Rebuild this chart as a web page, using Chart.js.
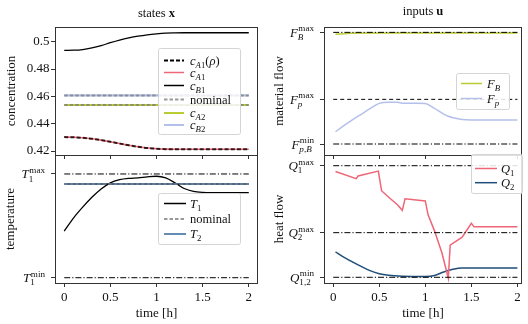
<!DOCTYPE html>
<html>
<head>
<meta charset="utf-8">
<script src="https://cdn.jsdelivr.net/npm/chart.js@4/dist/chart.umd.min.js"></script>
<style>
  html, body { margin: 0; padding: 0; background: #fff; }
  #wrap { position: relative; width: 528px; height: 324px; }
  canvas { position: absolute; left: 0; top: 0; }
</style>
</head>
<body>
<div id="wrap">
  <canvas id="tl" width="528" height="324"></canvas>
  <canvas id="bl" width="528" height="324"></canvas>
  <canvas id="tr" width="528" height="324"></canvas>
  <canvas id="br" width="528" height="324"></canvas>
</div>
<script>
// ---- data: states (left column) ----
const tStates = [0, 0.1, 0.2, 0.3, 0.4, 0.5, 0.6, 0.7, 0.8, 0.9, 1.0, 1.1, 1.2, 1.3, 1.4, 1.5, 1.6, 1.7, 1.8, 1.9, 2.0];
const cA1 = [0.4302, 0.4301, 0.4297, 0.4290, 0.4280, 0.4268, 0.4255, 0.4242, 0.4231, 0.4222, 0.4217, 0.4214, 0.4213, 0.4213, 0.4213, 0.4213, 0.4213, 0.4213, 0.4213, 0.4213, 0.4213];
const cA1Rho = [0.4302, 0.4301, 0.4297, 0.4290, 0.4280, 0.4268, 0.4255, 0.4242, 0.4231, 0.4222, 0.4217, 0.4214, 0.4213, 0.4213, 0.4213, 0.4213, 0.4213, 0.4213, 0.4213, 0.4213, 0.4213];
const cB1 = [0.4937, 0.4938, 0.4943, 0.4955, 0.4972, 0.4993, 0.5012, 0.5028, 0.5041, 0.5051, 0.5058, 0.5063, 0.5065, 0.5066, 0.5066, 0.5066, 0.5066, 0.5066, 0.5066, 0.5066, 0.5066];
const tEnds = [0, 2];
const cA2 = [0.4537, 0.4537];
const cB2 = [0.4607, 0.4607];
const nominalA2 = [0.4537, 0.4537];
const nominalB2 = [0.4607, 0.4607];
const concTicks = [0.42, 0.44, 0.46, 0.48, 0.5];

const T1 = [0.45, 0.575, 0.68, 0.775, 0.855, 0.915, 0.945, 0.958, 0.963, 0.972, 0.978, 0.962, 0.915, 0.86, 0.832, 0.822, 0.82, 0.82, 0.82, 0.82, 0.82];
const T2 = [0.904, 0.904];
const nominalT2 = [0.904, 0.904];
const T1max = [1, 1];
const T1min = [0, 0];

// ---- data: inputs (right column) ----
const tFB = [0.025, 0.2, 0.5, 2.0];
const FB = [2.455, 2.48, 2.485, 2.485];
const tFp = [0.025, 0.1, 0.2, 0.3, 0.4, 0.5, 0.6, 0.7, 0.75, 0.9, 1.0, 1.1, 1.2, 1.25, 1.3, 1.4, 1.5, 2.0];
const Fp = [0.275, 0.39, 0.53, 0.66, 0.79, 0.91, 0.935, 0.935, 0.915, 0.915, 0.905, 0.8, 0.67, 0.62, 0.59, 0.55, 0.54, 0.54];
const FBmax = [2.5, 2.5];
const Fpmax = [1, 1];
const FpBmin = [0, 0];

const tQ1 = [0.025, 0.25, 0.27, 0.49, 0.525, 0.6, 0.7, 0.75, 0.78, 1.0, 1.03, 1.1, 1.18, 1.25, 1.27, 1.4, 1.5, 1.53, 2.0];
const Q1 = [2.37, 2.21, 2.27, 2.38, 1.94, 1.80, 1.62, 1.50, 1.76, 1.71, 1.40, 1.04, 0.55, -0.02, 0.72, 0.90, 1.21, 1.13, 1.13];
const tQ2 = [0.025, 0.1, 0.25, 0.4, 0.5, 0.6, 0.75, 1.0, 1.1, 1.2, 1.3, 1.4, 2.0];
const Q2 = [0.57, 0.47, 0.30, 0.15, 0.08, 0.045, 0.025, 0.02, 0.04, 0.12, 0.18, 0.21, 0.21];
const Q1max = [2.5, 2.5];
const Q2max = [1, 1];
const Q12min = [0, 0];

const timeTicks = [0, 0.5, 1, 1.5, 2];

// ---- styling ----
const SERIF = '"Liberation Serif", "DejaVu Serif", serif';
const AX = '#333333';
const RED = '#ee6677';
const GREEN = '#bbcc33';
const LAV = '#b4c0ea';
const BLUE = '#336699';
const NAVY = '#1f4e7a';
const GREY = 'rgba(128,128,128,0.8)';
const DASHDOT = [6, 2, 1.2, 2];

const xy = (ts, vs) => ts.map((t, i) => ({ x: t, y: vs[i] }));

function fontStr(f, size) {
  return (f === 'i' ? 'italic ' : '') + (f === 'b' ? 'bold ' : '') + size + 'px ' + SERIF;
}
function runWidth(ctx, runs, size) {
  let w = 0;
  for (const r of runs) {
    if (r.sub || r.sup) {
      const s = size * 0.7;
      w += Math.max(r.sub ? runWidth(ctx, r.sub, s) : 0, r.sup ? runWidth(ctx, r.sup, s) : 0);
    } else {
      ctx.font = fontStr(r.f, size);
      w += ctx.measureText(r.t).width;
    }
  }
  return w;
}
function drawRuns(ctx, runs, x, y, size) {
  for (const r of runs) {
    if (r.sub || r.sup) {
      const s = size * 0.7;
      let a = x, b = x;
      if (r.sup) a = drawRuns(ctx, r.sup, x + 0.5, y - size * 0.42, s);
      if (r.sub) b = drawRuns(ctx, r.sub, x, y + size * 0.25, s);
      x = Math.max(a, b);
    } else {
      ctx.font = fontStr(r.f, size);
      ctx.fillText(r.t, x, y);
      x += ctx.measureText(r.t).width;
    }
  }
  return x;
}
const sym = (base, sub, sup) => {
  const o = {};
  if (sub) o.sub = sub;
  if (sup) o.sup = sup;
  return [{ t: base, f: 'i' }, o];
};
const I = t => ({ t, f: 'i' });
const R = t => ({ t, f: 'r' });

function makePanel(cfg) {
  const a = cfg.area;
  const decor = {
    id: 'decor',
    afterDraw(chart) {
      const ctx = chart.ctx;
      const ca = chart.chartArea;
      ctx.save();
      ctx.strokeStyle = AX;
      ctx.lineWidth = 1;
      ctx.strokeRect(Math.round(ca.left) + 0.5, Math.round(ca.top) + 0.5,
        Math.round(ca.right - ca.left) - 1, Math.round(ca.bottom - ca.top));
      ctx.fillStyle = '#111';
      ctx.textBaseline = 'alphabetic';
      ctx.textAlign = 'left';
      // math tick labels
      if (cfg.mathTicks) {
        const ys = chart.scales.y;
        for (const mt of cfg.mathTicks) {
          const py = ys.getPixelForValue(mt.v);
          const w = runWidth(ctx, mt.runs, 13);
          drawRuns(ctx, mt.runs, ca.left - 10.5 - w, py + 4.5, 13);
        }
      }
      // panel title
      if (cfg.title) {
        const w = runWidth(ctx, cfg.title.runs, 12.5);
        drawRuns(ctx, cfg.title.runs, (ca.left + ca.right) / 2 - w / 2, cfg.title.y, 12.5);
      }
      // legend
      if (cfg.legend) {
        const L = cfg.legend;
        const [x0, y0, x1, y1] = L.box;
        ctx.beginPath();
        ctx.roundRect(x0 + 0.5, y0 + 0.5, x1 - x0, y1 - y0, 2);
        ctx.fillStyle = 'rgba(255,255,255,0.85)';
        ctx.fill();
        ctx.strokeStyle = '#d4d4d4';
        ctx.lineWidth = 1;
        ctx.stroke();
        for (const it of L.items) {
          ctx.beginPath();
          ctx.setLineDash(it.dash || []);
          ctx.strokeStyle = it.color;
          ctx.lineWidth = it.width;
          ctx.moveTo(L.sx[0], it.y);
          ctx.lineTo(L.sx[1], it.y);
          ctx.stroke();
          ctx.setLineDash([]);
          ctx.fillStyle = '#111';
          drawRuns(ctx, it.runs, L.tx, it.y + 4, 12.5);
        }
      }
      ctx.restore();
    }
  };
  const tickFont = { family: SERIF, size: 13 };
  const titleFont = { family: SERIF, size: 13 };
  return new Chart(document.getElementById(cfg.id), {
    type: 'line',
    data: { datasets: cfg.datasets },
    options: {
      responsive: false,
      animation: false,
      events: [],
      layout: { padding: { left: a.l - cfg.yW, right: 528 - a.r, top: a.t, bottom: 324 - a.b - cfg.xH } },
      elements: { point: { radius: 0 }, line: { borderCapStyle: 'butt', fill: false } },
      plugins: { legend: { display: false }, tooltip: { enabled: false } },
      scales: {
        x: {
          type: 'linear', min: cfg.xMin, max: cfg.xMax,
          afterBuildTicks: s => { s.ticks = timeTicks.map(v => ({ value: v })); },
          afterFit: s => { s.height = cfg.xH; },
          grid: { display: true, drawOnChartArea: false, drawTicks: true, tickLength: 4, color: AX },
          border: { display: false },
          ticks: { display: cfg.xLabels, font: tickFont, color: '#111', padding: 3, maxRotation: 0, autoSkip: false, callback: v => String(v) },
          title: { display: !!cfg.xTitle, text: cfg.xTitle || '', font: titleFont, color: '#111', padding: { top: 0, bottom: 2.5 } }
        },
        y: {
          type: 'linear', min: cfg.yMin, max: cfg.yMax,
          afterBuildTicks: s => { s.ticks = cfg.yTicks.map(v => ({ value: v })); },
          afterFit: s => { s.width = cfg.yW; },
          grid: { display: true, drawOnChartArea: false, drawTicks: true, tickLength: 4, color: AX },
          border: { display: false },
          ticks: { font: tickFont, color: '#111', padding: 1.5, autoSkip: false, callback: cfg.yFmt || (() => '') },
          title: { display: true, text: cfg.yTitle, font: titleFont, color: '#111', padding: { top: cfg.yTitlePad, bottom: 0 } }
        }
      }
    },
    plugins: [decor]
  });
}

function lineDs(data, color, width, order, extra) {
  return Object.assign({ data, borderColor: color, borderWidth: width, order, pointRadius: 0, tension: 0 }, extra || {});
}
const smooth = { cubicInterpolationMode: 'monotone' };

// ---- states: concentration ----
makePanel({
  id: 'tl', area: { l: 55, r: 258, t: 27, b: 155 }, yW: 55, xH: 5,
  xMin: -0.1, xMax: 2.1, xLabels: false,
  yMin: 0.4171, yMax: 0.5108, yTicks: concTicks,
  yFmt: v => (v === 0.5 ? '0.5' : v.toFixed(2)),
  yTitle: 'concentration', yTitlePad: 4,
  title: { y: 16.5, runs: [R('states '), { t: 'x', f: 'b' }] },
  datasets: [
    lineDs(xy(tStates, cA1Rho), 'rgba(0,0,0,0.8)', 2, 1, Object.assign({ borderDash: [4, 2.2] }, smooth)),
    lineDs(xy(tEnds, nominalA2), GREY, 2, 2, { borderDash: [3.5, 2] }),
    lineDs(xy(tEnds, nominalB2), GREY, 2, 2, { borderDash: [3.5, 2] }),
    lineDs(xy(tStates, cA1), RED, 1.6, 5, smooth),
    lineDs(xy(tStates, cB1), '#000', 1.3, 5, smooth),
    lineDs(xy(tEnds, cA2), GREEN, 2.2, 6),
    lineDs(xy(tEnds, cB2), LAV, 2.2, 6)
  ],
  legend: {
    box: [158, 48, 240, 134], sx: [164, 184], tx: 190,
    items: [
      { y: 60.5, color: '#000', width: 2, dash: [4, 2], runs: [I('c'), { sub: [I('A'), R('1')] }, R('('), I('ρ'), R(')')] },
      { y: 72.5, color: RED, width: 1.5, runs: sym('c', [I('A'), R('1')]) },
      { y: 85.5, color: '#000', width: 1.5, runs: sym('c', [I('B'), R('1')]) },
      { y: 99.5, color: GREY, width: 2, dash: [3.5, 2], runs: [R('nominal')] },
      { y: 113, color: GREEN, width: 2, runs: sym('c', [I('A'), R('2')]) },
      { y: 125, color: LAV, width: 2, runs: sym('c', [I('B'), R('2')]) }
    ]
  }
});

// ---- states: temperature ----
makePanel({
  id: 'bl', area: { l: 55, r: 258, t: 155, b: 283 }, yW: 55, xH: 41,
  xMin: -0.1, xMax: 2.1, xLabels: true, xTitle: 'time [h]',
  yMin: -0.051, yMax: 1.183, yTicks: [0, 1],
  mathTicks: [
    { v: 1, runs: sym('T', [R('1')], [R('max')]) },
    { v: 0, runs: sym('T', [R('1')], [R('min')]) }
  ],
  yTitle: 'temperature', yTitlePad: 3,
  datasets: [
    lineDs(xy(tEnds, nominalT2), GREY, 2, 1, { borderDash: [3.5, 2] }),
    lineDs(xy(tEnds, T1max), '#000', 1, 2, { borderDash: DASHDOT }),
    lineDs(xy(tEnds, T1min), '#000', 1, 2, { borderDash: DASHDOT }),
    lineDs(xy(tStates, T1), '#000', 1.3, 4, smooth),
    lineDs(xy(tEnds, T2), BLUE, 2, 5)
  ],
  legend: {
    box: [158, 193, 240, 244], sx: [164, 186], tx: 190,
    items: [
      { y: 203.5, color: '#000', width: 1.5, runs: sym('T', [R('1')]) },
      { y: 219, color: GREY, width: 2, dash: [3.5, 2], runs: [R('nominal')] },
      { y: 234, color: BLUE, width: 1.5, runs: sym('T', [R('2')]) }
    ]
  }
});

// ---- inputs: material flow ----
makePanel({
  id: 'tr', area: { l: 324, r: 522, t: 27, b: 155 }, yW: 60, xH: 5,
  xMin: -0.1, xMax: 2.05, xLabels: false,
  yMin: -0.246, yMax: 2.62, yTicks: [0, 1, 2.5],
  mathTicks: [
    { v: 2.5, runs: sym('F', [I('B')], [R('max')]) },
    { v: 1, runs: sym('F', [I('p')], [R('max')]) },
    { v: 0, runs: sym('F', [I('p'), R(','), I('B')], [R('min')]) }
  ],
  yTitle: 'material flow', yTitlePad: 8,
  title: { y: 15, runs: [R('inputs '), { t: 'u', f: 'b' }] },
  datasets: [
    lineDs(xy(tEnds, FBmax), '#000', 1, 1, { borderDash: DASHDOT }),
    lineDs(xy(tEnds, Fpmax), '#000', 1, 1, { borderDash: [4, 3] }),
    lineDs(xy(tEnds, FpBmin), '#000', 1, 1, { borderDash: DASHDOT }),
    lineDs(xy(tFB, FB), GREEN, 1.5, 3),
    lineDs(xy(tFp, Fp), LAV, 1.5, 3, smooth)
  ],
  legend: {
    box: [456, 73, 509, 109], sx: [461, 482], tx: 487,
    items: [
      { y: 83.5, color: GREEN, width: 1.5, runs: sym('F', [I('B')]) },
      { y: 98.5, color: LAV, width: 1.5, runs: sym('F', [I('p')]) }
    ]
  }
});

// ---- inputs: heat flow ----
makePanel({
  id: 'br', area: { l: 324, r: 522, t: 155, b: 283 }, yW: 60, xH: 41,
  xMin: -0.1, xMax: 2.05, xLabels: true, xTitle: 'time [h]',
  yMin: -0.128, yMax: 2.74, yTicks: [0, 1, 2.5],
  mathTicks: [
    { v: 2.5, runs: sym('Q', [R('1')], [R('max')]) },
    { v: 1, runs: sym('Q', [R('2')], [R('max')]) },
    { v: 0, runs: sym('Q', [R('1,2')], [R('min')]) }
  ],
  yTitle: 'heat flow', yTitlePad: 8,
  datasets: [
    lineDs(xy(tEnds, Q1max), '#000', 1, 1, { borderDash: DASHDOT }),
    lineDs(xy(tEnds, Q2max), '#000', 1, 1, { borderDash: DASHDOT }),
    lineDs(xy(tEnds, Q12min), '#000', 1, 1, { borderDash: DASHDOT }),
    lineDs(xy(tQ1, Q1), RED, 1.5, 3),
    lineDs(xy(tQ2, Q2), NAVY, 1.5, 3, smooth)
  ],
  legend: {
    box: [471, 154, 522, 193], sx: [475, 497], tx: 501,
    items: [
      { y: 168.5, color: RED, width: 1.5, runs: sym('Q', [R('1')]) },
      { y: 182.7, color: NAVY, width: 1.5, runs: sym('Q', [R('2')]) }
    ]
  }
});
</script>
</body>
</html>
